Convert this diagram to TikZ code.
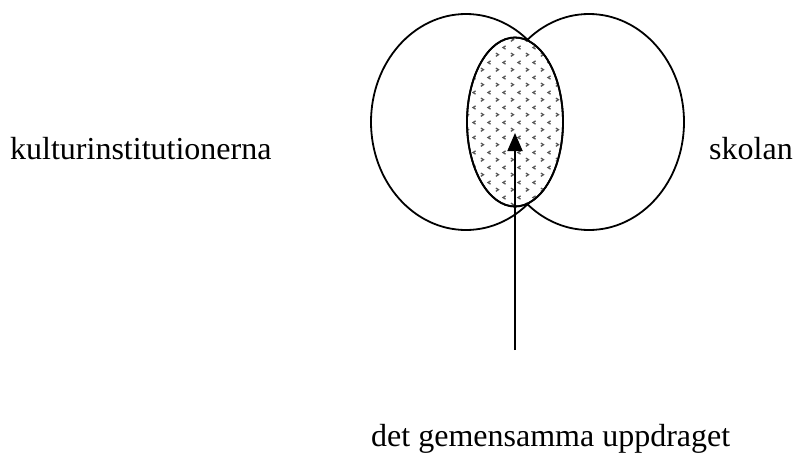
\documentclass[tikz,border=0pt]{standalone}
\usepackage{fontspec}
\setmainfont{Liberation Serif}
\usetikzlibrary{shapes.geometric,arrows.meta,patterns}
\pgfdeclarepatternformonly{chevrons}{\pgfqpoint{0pt}{0pt}}{\pgfqpoint{15pt}{15.4pt}}{\pgfqpoint{15pt}{15.4pt}}{%
  \pgfsetlinewidth{1.3pt}%
  \pgfpathmoveto{\pgfqpoint{0.9pt}{4.1pt}}%
  \pgfpathlineto{\pgfqpoint{3.7pt}{2.4pt}}%
  \pgfpathlineto{\pgfqpoint{0.9pt}{0.7pt}}%
  \pgfpathmoveto{\pgfqpoint{11.2pt}{11.5pt}}%
  \pgfpathlineto{\pgfqpoint{8.4pt}{9.8pt}}%
  \pgfpathlineto{\pgfqpoint{11.2pt}{8.1pt}}%
  \pgfusepath{stroke}%
}
\tikzset{
  venn/.style={draw=black, line width=1.8pt, ellipse, inner sep=0pt},
  label text/.style={anchor=base west, inner sep=0pt, font=\fontsize{32}{38}\selectfont},
  pointer/.style={draw=black, line width=1.8pt, -{Triangle[width=15pt,length=18pt]}}
}
\begin{document}
\begin{tikzpicture}[x=1pt,y=-1pt]
\useasboundingbox (0,0) rectangle (795,453);
\node[venn, minimum width=190pt, minimum height=216pt] (L) at (466,122) {};
\node[venn, minimum width=190pt, minimum height=216pt] (R) at (589,122) {};
\node[venn, fill=white, minimum width=96pt, minimum height=169pt] (M) at (515,122) {};
\fill[pattern=chevrons, pattern color=black!65] (M.center) ellipse [x radius=47pt, y radius=83.5pt];
\draw[line width=1.8pt] (M.center) ellipse [x radius=48pt, y radius=84.5pt];
\node[label text] (kult) at (10,159) {kulturinstitutionerna};
\node[label text] (skol) at (709,159) {skolan};
\node[label text] (upp) at (371,446) {det gemensamma uppdraget};
\coordinate (src) at (515,350);
\coordinate (tip) at (515,133);
\draw[pointer] (src) -- (tip);
\end{tikzpicture}
\end{document}
